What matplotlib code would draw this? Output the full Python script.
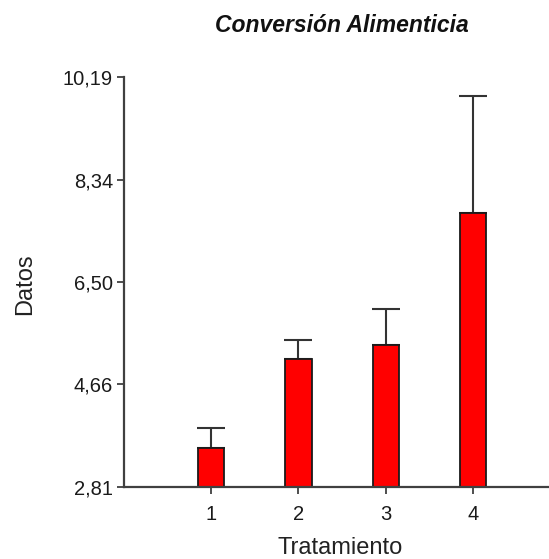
import numpy as np
import matplotlib.pyplot as plt

plt.rcParams['font.family'] = ['Liberation Sans', 'DejaVu Sans']

# data
tratamientos = ['1', '2', '3', '4']
medias = [3.51, 5.12, 5.37, 7.74]
errores = [0.37, 0.33, 0.65, 2.11]
y_ticks = [2.81, 4.66, 6.50, 8.34, 10.19]
y_labels = ['2,81', '4,66', '6,50', '8,34', '10,19']

base = y_ticks[0]
x = np.arange(1, len(tratamientos) + 1)

fig = plt.figure(figsize=(5.49, 5.59), dpi=100)
ax = fig.add_axes([124 / 549, 1 - 487 / 559, 424 / 549, 410 / 559])

heights = np.array(medias) - base
ax.bar(x, heights, bottom=base, width=0.3, color='#ff0000', edgecolor='#1a1a1a', linewidth=1.3, zorder=2)
# only the upper half of the error bar, as in the original
ax.errorbar(x, medias, yerr=[np.zeros(len(errores)), errores], fmt='none',
            ecolor='#333333', elinewidth=1.5, capsize=10, capthick=1.5, zorder=1)

ax.set_xlim(0, 4.86)
ax.set_ylim(base, y_ticks[-1])
ax.set_yticks(y_ticks)
ax.set_yticklabels(y_labels)
ax.set_xticks(x)
ax.set_xticklabels(tratamientos)

for s in ['top', 'right']:
    ax.spines[s].set_visible(False)
for s in ['left', 'bottom']:
    ax.spines[s].set_color('#404040')
    ax.spines[s].set_linewidth(1.6)
ax.tick_params(colors='#404040', labelcolor='#1a1a1a', width=1.3, length=5, labelsize=14.5)
ax.tick_params(axis='y', pad=3)
ax.tick_params(axis='x', pad=8)

ax.set_xlabel('Tratamiento', fontsize=17, color='#222222')
ax.set_ylabel('Datos', fontsize=17, color='#222222')
ax.xaxis.set_label_coords((340 - 124) / 424, (487 - 537) / 410)
ax.yaxis.set_label_coords((36 - 124) / 424, (487 - 284) / 410)
fig.text(342 / 549, 1 - 25 / 559, 'Conversión Alimenticia', ha='center', va='center',
         fontsize=16.5, fontweight='bold', fontstyle='italic', color='#111111')

fig.savefig('out.png', dpi=100)
